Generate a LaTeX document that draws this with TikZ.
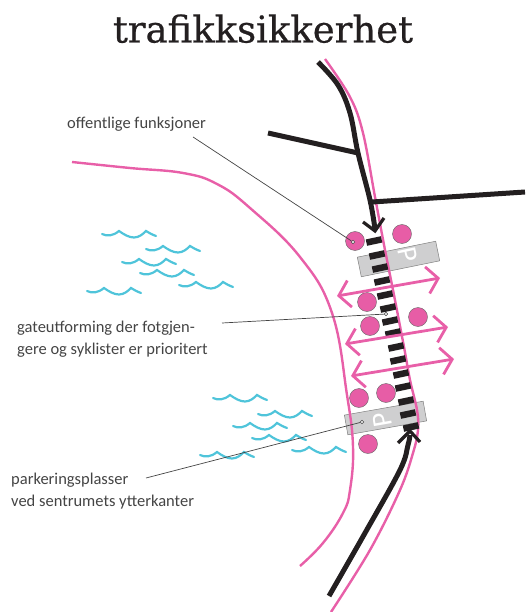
\documentclass[tikz,border=0pt]{standalone}
\usepackage{fontspec}
\setmainfont{Carlito}
\newfontfamily\titlefont[FakeBold=0.6]{DejaVu Serif}
\usetikzlibrary{arrows.meta}
\definecolor{roadpink}{HTML}{E85FA8}
\definecolor{dotpink}{HTML}{E75DA6}
\definecolor{wavecyan}{HTML}{4FC4DA}
\definecolor{roadblack}{HTML}{231F20}
\definecolor{pgray}{HTML}{CFCFD0}
\definecolor{labelgray}{HTML}{444444}
\tikzset{
  edgeline/.style={draw=roadpink,line width=2.4pt},
  road/.style={draw=roadblack,line width=5pt},
  roadhead/.style={draw=roadblack,line width=3.2pt},
  bar/.style={fill=roadblack,minimum width=15.5pt,minimum height=6.5pt,inner sep=0pt,rotate=12},
  spot/.style={circle,fill=dotpink,draw=gray!80!black,line width=0.4pt,minimum size=19pt,inner sep=0pt},
  pbox/.style={fill=pgray,draw=gray,line width=0.5pt,minimum width=80pt,minimum height=20pt,inner sep=0pt},
  pmark/.style={text=white,font=\fontsize{28}{28}\selectfont,inner sep=0pt},
  cross/.style={draw=roadpink,line width=2.8pt,{Straight Barb[length=11pt,width=27pt,line width=2.8pt]}-{Straight Barb[length=11pt,width=27pt,line width=2.8pt]}},
  leader/.style={draw=labelgray,line width=0.7pt},
  ring/.style={circle,draw=labelgray,fill=white,line width=0.6pt,minimum size=3.5pt,inner sep=0pt},
  lab/.style={text=labelgray,font=\fontsize{16.5}{22.5}\selectfont,align=left,anchor=west,inner sep=0pt},
  wave/.pic={\draw[draw=wavecyan,line width=2.2pt,line cap=round]
    (0,0) .. controls (5,2.5) and (11,2) .. (17,-3) .. controls (22,0.5) and (27,3.5) .. (32,3.5) .. controls (37,3.5) and (41,0) .. (44,-3) .. controls (47,-1) and (50,0.5) .. (54,2);}
}
\begin{document}
\begin{tikzpicture}[x=1pt,y=-1pt]
\useasboundingbox (0,0) rectangle (525,612);
\node[anchor=base,text=roadblack] (title) at (263,42.5) {\titlefont\fontsize{37}{37}\selectfont trafikksikkerhet};

% waves
\foreach \x/\y in {102/234,146/249,122/262,140/273,179/285,87/291,213/398,258/414,233/426,252/438,292/450,200/455}
  \pic at (\x,\y) {wave};

% parking boxes
\node[pbox,rotate=11.5] (pone) at (398.5,259) {};
\node[pbox,rotate=10] (ptwo) at (385.5,418) {};
\node[pmark,rotate=-78] (pa) at (408,255) {P};
\node[pmark,rotate=100] (pb) at (382,420) {P};

% pink street edges
\draw[edgeline] plot[smooth,tension=0.6] coordinates {(325,59) (350,97) (363,133) (375,197) (385,250) (393,290) (404,347) (410,380) (417,410) (418,430) (413,453) (400,490) (370,550) (331,612)};
\draw[edgeline] plot[smooth,tension=0.7] coordinates {(72,162) (130,168) (183,173) (217,184) (250,208) (300,257) (332,313) (347,395) (353,447) (350,490) (343,513) (323,543) (300,566)};

% black roads
\coordinate (sideA) at (268,133);
\coordinate (sideB) at (358,153);
\coordinate (sideC) at (372,202);
\coordinate (sideD) at (525,192);
\draw[road] plot[smooth,tension=0.6] coordinates {(318,62) (338,85) (350,113) (358,153) (370,200) (375,229)};
\draw[road] (sideA) -- (sideB);
\draw[road] (sideC) -- (sideD);
\draw[roadhead] (363,222) -- (375,231) -- (384,218);
\draw[road] plot[smooth,tension=0.6] coordinates {(329,596) (365,533) (400,470) (408,445) (410,435)};
\draw[roadhead] (398,443) -- (410,431) -- (420,442);

% crossing bars
\foreach \n/\x/\y in {1/374/241,2/377/255,3/380/268,4/382/281,5/385/295,6/388/308,7/390/321,8/393/333,9/396/347,10/398/360,11/401/374,12/403/387,13/406/401,14/408/414,15/411/427}
  \node[bar] (bar\n) at (\x,\y) {};

% spots
\node[spot] (s1) at (355,241) {};
\node[spot] (s2) at (402,234) {};
\node[spot] (s3) at (367,302) {};
\node[spot] (s4) at (370,326) {};
\node[spot] (s5) at (418,317) {};
\node[spot] (s6) at (359,398) {};
\node[spot] (s7) at (386,393) {};
\node[spot] (s8) at (368,444) {};

% crossing arrows
\coordinate (a1) at (337,296); \coordinate (b1) at (440,278);
\coordinate (a2) at (345,344); \coordinate (b2) at (448,327);
\coordinate (a3) at (351,376); \coordinate (b3) at (454,359);
\draw[cross] (a1) -- (b1);
\draw[cross] (a2) -- (b2);
\draw[cross] (a3) -- (b3);

% labels
\node[lab] (l1) at (67,124) {offentlige funksjoner};
\node[lab] (l2) at (17,339) {gateutforming der fotgjen-\\gere og syklister er prioritert};
\node[lab] (l3) at (11,491) {parkeringsplasser\\ved sentrumets ytterkanter};

\coordinate (f1) at (193,137);
\coordinate (f2) at (222,323);
\coordinate (f3) at (146,478);
\node[ring] (r1) at (353,242) {};
\node[ring] (r2) at (386,314) {};
\node[ring] (r3) at (362,422) {};
\draw[leader] (f1) -- (r1);
\draw[leader] (f2) -- (r2);
\draw[leader] (f3) -- (r3);
\end{tikzpicture}
\end{document}
